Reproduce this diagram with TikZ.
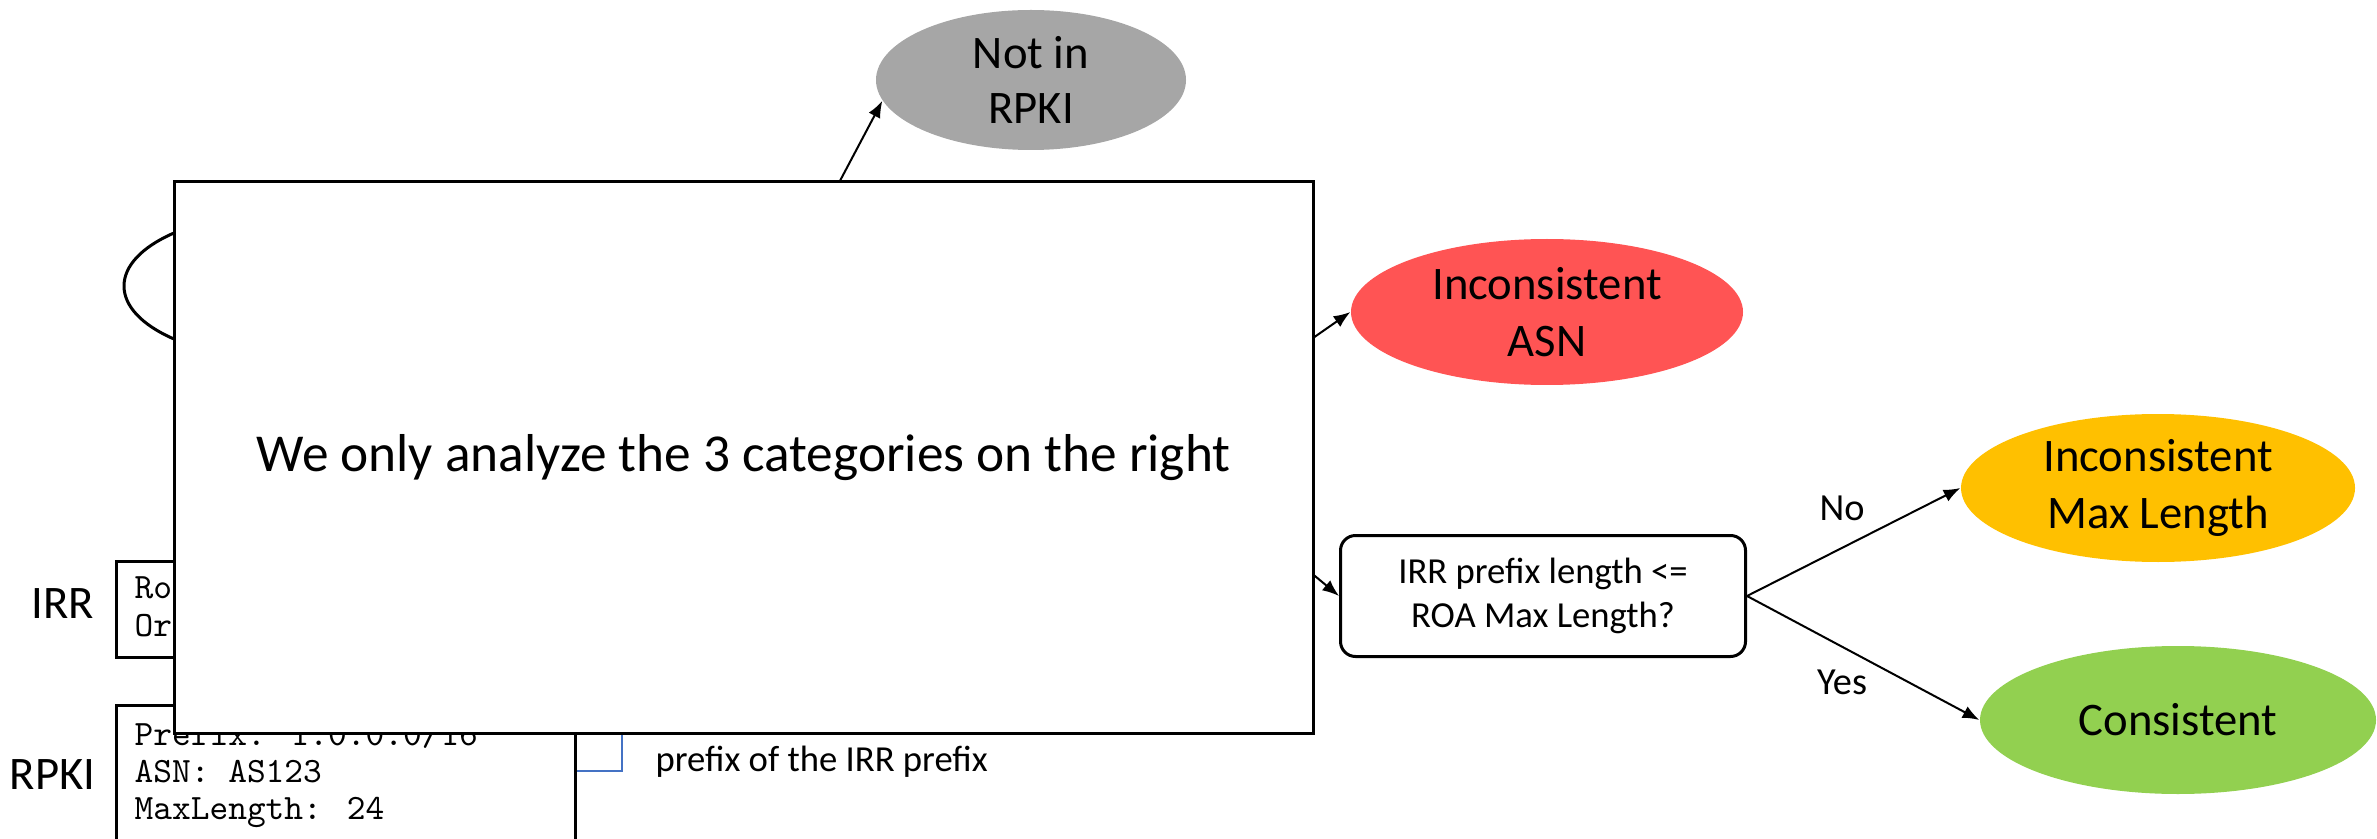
\documentclass[tikz,border=0pt]{standalone}
\usepackage{fontspec}
\setmainfont{Carlito}
\usetikzlibrary{arrows.meta}
\usetikzlibrary{shapes.geometric}

\definecolor{notinGray}{RGB}{166,166,166}
\definecolor{asnRed}{RGB}{255,84,84}
\definecolor{maxlenYellow}{RGB}{255,192,0}
\definecolor{consGreen}{RGB}{146,208,80}
\definecolor{linkBlue}{RGB}{68,114,196}

\tikzset{
  result/.style={ellipse, inner sep=0pt, align=center, font=\fontsize{14}{17.3}\selectfont},
  conn/.style={line width=0.6pt, -{Latex[length=5pt,width=3.9pt]}},
  monoline/.style={font=\fontsize{10.7}{11.25}\selectfont\ttfamily, inner sep=0pt, anchor=base west},
  recbox/.style={draw, line width=0.9pt, inner sep=0pt, anchor=north west},
  lbl/.style={font=\fontsize{11.5}{13.8}\selectfont, inner sep=0pt},
}

\begin{document}
\begin{tikzpicture}[x=0.3pt,y=0.3pt,yscale=-1,xscale=1]
\useasboundingbox (0,0) rectangle (2377,839);

%Shape: Ellipse
\draw (284,286) node [ellipse, draw, line width=0.9pt, fill=white, minimum width=96pt, minimum height=43.8pt] (start) {};

%Shape: Rectangle
\draw (115,560) node [recbox, minimum width=133.5pt, minimum height=28.8pt] (irr) {};
\draw (115,704) node [recbox, minimum width=137.7pt, minimum height=51pt] (rpki) {};

% Text Node
\draw (95,604) node [anchor=east, inner sep=0pt, font=\fontsize{14}{17}\selectfont] (irrname) {IRR};
\draw (96,775) node [anchor=east, inner sep=0pt, font=\fontsize{14}{17}\selectfont] (rpkiname) {RPKI};
\draw (134,598) node [monoline] (irrA) {Ro};
\draw (134,636) node [monoline] (irrB) {Or};
\draw (134,745) node [monoline] (rpkiA) {Prefix: 1.0.0.0/16};
\draw (134,782) node [monoline] (rpkiB) {ASN: AS123};
\draw (134,819) node [monoline] (rpkiC) {MaxLength: 24};
\draw (655,771) node [anchor=base west, inner sep=0pt, font=\fontsize{11}{13.4}\selectfont] (subnote) {prefix of the IRR prefix};

%Shape: Ellipse
\draw (1031,80) node [result, fill=notinGray, font=\fontsize{14}{16.7}\selectfont, minimum width=93pt, minimum height=42pt] (notin) {Not in\\RPKI};
\draw (1547,312) node [result, fill=asnRed, minimum width=117.6pt, minimum height=43.8pt] (asn) {Inconsistent\\ASN};
\draw (2158,488) node [result, fill=maxlenYellow, minimum width=118.2pt, minimum height=44.4pt] (maxlen) {Inconsistent\\Max Length};
\draw (2178,720) node [result, fill=consGreen, minimum width=118.8pt, minimum height=44.4pt] (cons) {Consistent};

%Shape: Rounded Rect
\draw (1543,596) node [draw, line width=0.9pt, rounded corners=4.5pt, minimum width=121.5pt, minimum height=36.3pt, align=center, font=\fontsize{11}{13.4}\selectfont] (check) {IRR prefix length <=\\ROA Max Length?};

%Straight Lines
\coordinate (srcA) at (815,228);
\coordinate (srcB) at (1280,361);
\coordinate (srcC) at (1280,547);
\coordinate (srcD) at (622,700);
\draw [conn] (srcA) -- (notin.188);
\draw [conn] (srcB) -- (asn.west);
\draw [conn] (srcC) -- (check.west);
\draw [conn] (check.east) -- (maxlen.west);
\draw [conn] (check.east) -- (cons.west);
\draw [linkBlue, line width=0.75pt] (srcD) |- (rpki.east |- rpkiB.east);

% Text Node
\draw (1842,508) node [lbl] (nolbl) {No};
\draw (1842,682) node [lbl] (yeslbl) {Yes};

%Shape: Rectangle
\draw (743.5,457.5) node [draw, line width=0.9pt, fill=white, minimum width=341.7pt, minimum height=165.3pt, font=\fontsize{16}{19}\selectfont] (overlay) {We only analyze the 3 categories on the right};
\end{tikzpicture}
\end{document}
